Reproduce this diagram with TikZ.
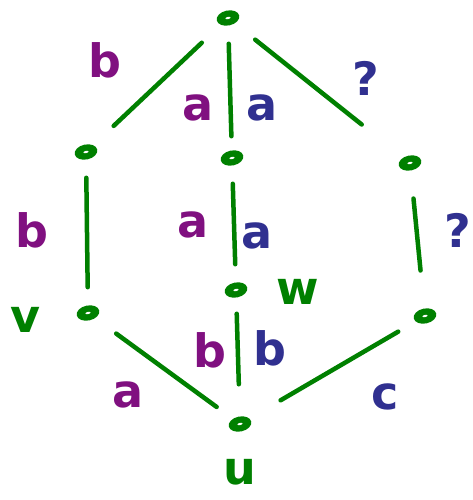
\documentclass[tikz,border=0pt]{standalone}
\usepackage{fontspec}
\setmainfont{DejaVu Sans}
\usetikzlibrary{shapes.geometric}
\definecolor{gr}{RGB}{0,128,0}
\definecolor{pu}{RGB}{128,16,128}
\definecolor{bl}{RGB}{48,48,144}
\begin{document}
\begin{tikzpicture}[x=1pt,y=-1pt,
  vtx/.style={ellipse,fill=gr,minimum width=23pt,minimum height=15pt,inner sep=0pt,rotate=12,
    path picture={\fill[white] (path picture bounding box.center) ellipse (2.6pt and 1.1pt);}},
  edg/.style={draw=gr,line width=4.5pt,line cap=round},
  lab/.style={font=\fontsize{46}{46}\selectfont\bfseries,inner sep=0pt},
  pl/.style={lab,text=pu},
  bll/.style={lab,text=bl},
  gl/.style={lab,text=gr}]
\useasboundingbox (0,0) rectangle (473,500);
\node[vtx] (t) at (228,18) {};
\node[vtx] (l1) at (86,152) {};
\node[vtx] (m1) at (232,158) {};
\node[vtx] (r1) at (410,163) {};
\node[vtx] (m2) at (236,290) {};
\node[vtx] (v) at (88,313) {};
\node[vtx] (r2) at (425,316) {};
\node[vtx] (u) at (240,424) {};
\draw[edg,shorten <=26pt,shorten >=28pt] (t) -- (l1);
\draw[edg,shorten <=18pt,shorten >=14pt] (t) -- (m1);
\draw[edg,shorten <=26pt,shorten >=53pt] (t) -- (r1);
\draw[edg,shorten <=18pt,shorten >=18pt] (l1) -- (v);
\draw[edg,shorten <=18pt,shorten >=18pt] (m1) -- (m2);
\draw[edg,shorten <=28pt,shorten >=38pt] (r1) -- (r2);
\draw[edg,shorten <=26pt,shorten >=20pt] (v) -- (u);
\draw[edg,shorten <=16pt,shorten >=32pt] (m2) -- (u);
\draw[edg,shorten <=20pt,shorten >=36pt] (r2) -- (u);
\node[pl] (lb1) at (105,60) {b};
\node[pl] (la1) at (198,108) {a};
\node[bll] (ra1) at (262,108) {a};
\node[bll] (q1) at (366,78) {?};
\node[pl] (lb2) at (32,230) {b};
\node[pl] (la2) at (193,225) {a};
\node[bll] (ra2) at (257,236) {a};
\node[bll] (q2) at (458,230) {?};
\node[pl] (lb3) at (210,350) {b};
\node[bll] (rb3) at (270,348) {b};
\node[pl] (la3) at (128,395) {a};
\node[bll] (lc3) at (385,397) {c};
\node[gl] (lv) at (25,320) {v};
\node[gl] (lw) at (298,292) {w};
\node[gl] (lu) at (240,472) {u};
\end{tikzpicture}
\end{document}
